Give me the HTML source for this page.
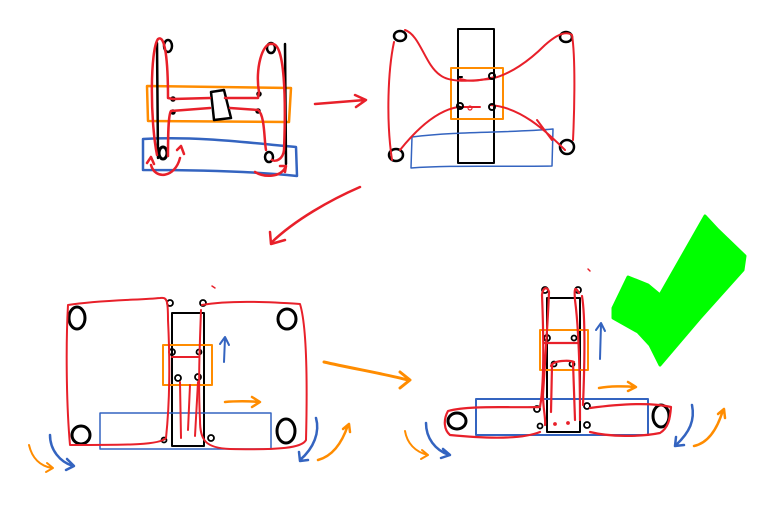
<!DOCTYPE html>
<html><head><meta charset="utf-8"><style>
html,body{margin:0;padding:0;background:#fff;width:767px;height:507px;overflow:hidden}
svg{display:block}
</style></head><body>
<svg width="767" height="507" viewBox="0 0 767 507" xmlns="http://www.w3.org/2000/svg" fill="none" stroke-linecap="round" stroke-linejoin="round">
<!-- Panel 1 -->
<g stroke-width="2.5">
<path d="M147,86 L291,88 L289,122 L148,121 Z" stroke="#ff8c00"/>
<path d="M143,139 C200,136 250,143 296,147 L297,176 C250,171 190,170 143,170 Z" stroke="#3464c0" stroke-width="2.5"/>
<path d="M157,43 L158,158" stroke="#000" stroke-width="2.5"/>
<path d="M285,44 L286,164" stroke="#000" stroke-width="2.5"/>
<ellipse cx="168" cy="46" rx="4" ry="6" stroke="#000"/>
<ellipse cx="271" cy="48" rx="4" ry="5" stroke="#000"/>
<ellipse cx="163" cy="153" rx="4" ry="6" stroke="#000" stroke-width="3"/>
<ellipse cx="269" cy="157" rx="4" ry="5" stroke="#000"/>
<path d="M211,92 L224,90 L231,118 L214,120 Z" stroke="#000" stroke-width="2.5"/>
<circle cx="173" cy="99" r="1.5" fill="#000" stroke="#000"/>
<circle cx="259" cy="94" r="1.5" fill="#000" stroke="#000"/>
<circle cx="173" cy="112" r="1.5" fill="#000" stroke="#000"/>
<circle cx="258" cy="111" r="1.5" fill="#000" stroke="#000"/>
<g stroke="#e8202a">
<path d="M157,155 C150,120 150,50 158,39 C165,34 168,60 168,98 L173,99 L210,98"/>
<path d="M225,98 L258,98 L259,92 C255,70 262,42 272,44 C285,42 286,100 284,150 C283,160 275,162 272,160"/>
<path d="M168,156 C168,140 168,115 171,111 L210,108 M230,108 L258,110 C265,115 264,140 266,150"/>
<path d="M151,165 C155,180 175,178 180,158 M147,163 L151,157 L154,164 M177,150 L181,146 L184,154"/>
<path d="M255,172 C265,178 280,177 285,168 M280,166 L286,166 L285,172"/>
<path d="M315,104 L365,100 M355,95 L366,100 L356,107"/>
</g>
</g>
<!-- Panel 2 -->
<g stroke-width="2.5">
<rect x="458" y="29" width="36" height="134" stroke="#000" stroke-width="2"/>
<rect x="451" y="68" width="52" height="51" stroke="#ff8c00" stroke-width="2"/>
<path d="M412,137 C460,131 510,133 553,129 L552,166 C500,167 450,165 411,168 Z" stroke="#3464c0" stroke-width="1.5"/>
<ellipse cx="400" cy="36" rx="6" ry="5" stroke="#000"/>
<ellipse cx="566" cy="37" rx="6" ry="5" stroke="#000"/>
<ellipse cx="396" cy="155" rx="7" ry="6" stroke="#000"/>
<ellipse cx="567" cy="147" rx="7" ry="7" stroke="#000"/>
<g stroke="#e8202a" stroke-width="2">
<path d="M405,30 C420,35 425,65 440,75 C450,83 470,81 490,79 C510,75 530,60 545,45 C555,36 565,30 572,35 C576,60 574,120 573,140"/>
<path d="M392,160 C386,120 388,70 394,42"/>
<path d="M400,150 C420,125 440,110 458,107 L480,107"/>
<path d="M490,105 C520,107 545,130 565,150 M537,120 L552,140"/>
<path d="M460,79 C470,82 478,81 495,77"/>
<circle cx="470" cy="108" r="2" stroke-width="1.2"/>
</g>
<path d="M458,77 L462,77 M458,106 L462,108" stroke="#000" stroke-width="2"/>
<circle cx="492" cy="76" r="3" stroke="#000" stroke-width="2"/>
<circle cx="460" cy="106" r="3" stroke="#000" stroke-width="2"/>
<circle cx="492" cy="107" r="3" stroke="#000" stroke-width="2"/>
<path d="M360,187 C330,200 295,220 272,242 M270,232 L271,244 L285,240" stroke="#e8202a"/>
</g>
<!-- Panel 3 -->
<g stroke-width="2">
<rect x="172" y="313" width="32" height="133" stroke="#000"/>
<rect x="163" y="345" width="49" height="40" stroke="#ff8c00"/>
<rect x="100" y="413" width="171" height="36" stroke="#3464c0" stroke-width="1.5"/>
<ellipse cx="77" cy="318" rx="8" ry="11" stroke="#000" stroke-width="3"/>
<ellipse cx="287" cy="319" rx="9" ry="10" stroke="#000" stroke-width="3"/>
<ellipse cx="81" cy="435" rx="9" ry="9" stroke="#000" stroke-width="3"/>
<ellipse cx="286" cy="431" rx="9" ry="12" stroke="#000" stroke-width="3"/>
<g stroke="#000" stroke-width="1.8">
<circle cx="170" cy="303" r="3"/><circle cx="203" cy="303" r="3"/>
<circle cx="172" cy="352" r="3"/><circle cx="199" cy="352" r="2.5"/>
<circle cx="178" cy="378" r="3"/><circle cx="198" cy="377" r="3"/>
<circle cx="164" cy="440" r="2.5"/><circle cx="211" cy="438" r="3"/>
</g>
<g stroke="#e8202a">
<path d="M166,438 C160,445 130,445 70,445 C66,400 66,340 68,305 C100,300 140,300 160,298 C167,297 168,300 168,320 C170,360 170,400 166,438"/>
<path d="M202,305 C230,300 270,302 300,304 C308,330 307,400 306,440 C302,448 280,450 230,449 C205,448 200,440 200,420 C198,380 200,340 201,310"/>
<path d="M172,357 L198,357"/>
<path d="M180,382 L181,438 M198,382 L195,436 M190,385 L188,430"/>
<path d="M212,286 L215,288" stroke-width="1.5"/>
</g>
<path d="M224,362 L225,338 M220,344 L225,337 L229,345" stroke="#3464c0"/>
<path d="M225,402 C235,401 250,401 259,402 M252,397 L260,402 L252,407" stroke="#ff8c00" stroke-width="2.5"/>
<path d="M50,435 C50,450 60,462 73,466 M67,459 L74,466 L66,470" stroke="#3464c0" stroke-width="2.5"/>
<path d="M29,445 C32,458 40,466 52,468 M47,463 L53,468 L46,472" stroke="#ff8c00"/>
<path d="M316,418 C320,432 314,448 300,460 M299,452 L300,461 L308,460" stroke="#3464c0" stroke-width="2.5"/>
<path d="M318,460 C333,456 342,443 348,425 M343,429 L349,424 L350,432" stroke="#ff8c00" stroke-width="2.5"/>
</g>
<path d="M324,362 C350,368 385,374 408,380 M400,372 L410,380 L400,388" stroke="#ff8c00" stroke-width="3"/>
<!-- Panel 4 -->
<g stroke-width="2">
<rect x="547" y="298" width="33" height="134" stroke="#000"/>
<rect x="540" y="330" width="48" height="40" stroke="#ff8c00"/>
<rect x="476" y="399" width="172" height="36" stroke="#3464c0"/>
<ellipse cx="457" cy="421" rx="9" ry="8" stroke="#000" stroke-width="3"/>
<ellipse cx="661" cy="416" rx="8" ry="11" stroke="#000" stroke-width="3"/>
<g stroke="#000" stroke-width="1.8">
<circle cx="545" cy="290" r="3"/><circle cx="578" cy="290" r="3"/>
<circle cx="547" cy="338" r="3"/><circle cx="574" cy="338" r="2.5"/>
<circle cx="554" cy="364" r="2.5"/><circle cx="572" cy="364" r="2.5"/>
<circle cx="537" cy="409" r="3"/><circle cx="587" cy="406" r="3"/>
<circle cx="540" cy="426" r="2.5"/><circle cx="587" cy="425" r="3"/>
</g>
<g stroke="#e8202a" stroke-width="2.2">
<path d="M540,407 C545,380 543,320 542,295 C543,286 548,287 549,292 C548,320 545,360 543,395 C543,408 546,420 545,425"/>
<path d="M579,293 C575,286 574,288 575,300 C579,330 580,380 580,420 M582,296 C586,320 584,380 583,405"/>
<path d="M540,407 C510,408 470,405 448,411 C443,420 444,430 450,435 C480,438 520,440 540,432"/>
<path d="M590,408 C620,404 650,402 671,407 C670,420 668,428 660,433 C640,437 610,437 590,432"/>
<path d="M544,343 L578,343"/>
<path d="M551,366 C553,360 570,360 574,362 M552,366 L551,412 M573,362 L575,420"/>
<circle cx="555" cy="424" r="0.8" fill="#e8202a"/><circle cx="568" cy="423" r="0.8" fill="#e8202a"/>
<path d="M588,269 L590,271" stroke-width="1.5"/>
</g>
<path d="M600,359 L601,324 M596,330 L601,323 L605,331" stroke="#3464c0"/>
<path d="M599,388 C610,386 625,386 635,387 M628,382 L636,387 L628,391" stroke="#ff8c00" stroke-width="2.5"/>
<path d="M426,423 C426,438 435,450 449,455 M443,449 L450,455 L441,458" stroke="#3464c0" stroke-width="2.5"/>
<path d="M405,431 C407,443 415,452 428,455 M422,450 L428,455 L421,459" stroke="#ff8c00"/>
<path d="M692,405 C695,420 690,432 676,445 M676,437 L675,446 L684,445" stroke="#3464c0" stroke-width="2.5"/>
<path d="M694,446 C708,443 717,430 723,410 M718,414 L724,409 L725,418" stroke="#ff8c00" stroke-width="2.5"/>
</g>
<!-- checkmark -->
<path d="M613,308 L628,277 L648,285 L660,295 L705,216 L718,230 L745,256 L743,270 L700,318 L660,365 L650,345 L638,332 L613,318 Z" fill="#00ff00" stroke="#00ff00" stroke-width="3"/>
</svg>
</body></html>
